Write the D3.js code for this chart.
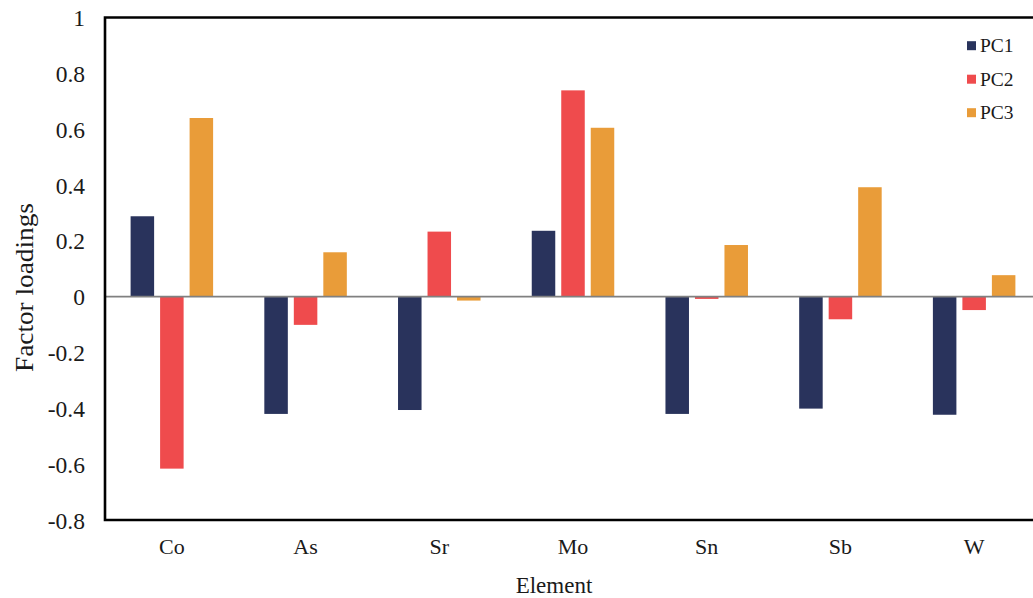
<!DOCTYPE html>
<html>
<head>
<meta charset="utf-8">
<script src="https://cdn.jsdelivr.net/npm/d3@7"></script>
<style>
  html, body { margin: 0; padding: 0; background: #fff; overflow: hidden; }
  svg { display: block; font-family: "Liberation Serif", "Times New Roman", serif; }
</style>
</head>
<body>
<svg id="chart" width="1033" height="598"></svg>
<script>
// Factor loadings of each element on the first three principal components
const elements = ["Co", "As", "Sr", "Mo", "Sn", "Sb", "W"];
const seriesNames = ["PC1", "PC2", "PC3"];
const pc1 = [0.288, -0.420, -0.406, 0.236, -0.420, -0.401, -0.423];
const pc2 = [-0.616, -0.101, 0.233, 0.739, -0.008, -0.081, -0.048];
const pc3 = [0.640, 0.159, -0.014, 0.605, 0.185, 0.392, 0.077];
const yTicks = [1, 0.8, 0.6, 0.4, 0.2, 0, -0.2, -0.4, -0.6, -0.8];
const colors = ["#29335c", "#ef4b4d", "#e99c39"];

const series = [pc1, pc2, pc3];
const rows = [];
elements.forEach((el, i) => {
  seriesNames.forEach((s, j) => rows.push({ el, s, v: series[j][i] }));
});

const svg = d3.select("#chart");
const plotLeft = 105, plotTop = 17.5, plotBottom = 520, plotRight = 1041;
const textColor = "#1a1a1a";

const x0 = d3.scaleBand().domain(elements).range([plotLeft, plotRight]).padding(0);
const x1 = d3.scaleBand().domain(seriesNames).range([0, x0.bandwidth()])
  .paddingInner(0.203).paddingOuter(0.868);
const y = d3.scaleLinear().domain([-0.8, 1]).range([plotBottom, plotTop]);

// bars
svg.append("g").selectAll("rect").data(rows).join("rect")
  .attr("x", d => x0(d.el) + x1(d.s))
  .attr("width", x1.bandwidth())
  .attr("y", d => y(Math.max(0, d.v)))
  .attr("height", d => Math.abs(y(d.v) - y(0)))
  .attr("fill", d => colors[seriesNames.indexOf(d.s)]);

// zero line
svg.append("line")
  .attr("x1", plotLeft).attr("x2", plotRight)
  .attr("y1", y(0)).attr("y2", y(0))
  .attr("stroke", "#808080").attr("stroke-width", 1.8);

// frame: left, top, bottom
svg.append("path")
  .attr("d", `M${plotRight},${plotTop}H${plotLeft}V${plotBottom}H${plotRight}`)
  .attr("fill", "none").attr("stroke", "#000").attr("stroke-width", 2.6);

// y axis labels (plain hyphen for negatives)
const yAxis = d3.axisLeft(y).tickValues(yTicks).tickSize(0).tickPadding(20)
  .tickFormat(d => String(+d.toFixed(1)));
const gy = svg.append("g").attr("transform", `translate(${plotLeft},0)`).call(yAxis);
gy.select(".domain").remove();
gy.selectAll("text").attr("font-size", 23.5).attr("fill", textColor).attr("dy", "0.34em")
  .attr("font-family", "Liberation Serif, Times New Roman, serif");

// x axis labels
const xAxis = d3.axisBottom(x0).tickSize(0).tickPadding(18);
const gx = svg.append("g").attr("transform", `translate(0,${plotBottom})`).call(xAxis);
gx.select(".domain").remove();
gx.selectAll("text").attr("font-size", 22).attr("fill", textColor)
  .attr("font-family", "Liberation Serif, Times New Roman, serif");

// axis titles
svg.append("text")
  .attr("x", 554).attr("y", 592.5)
  .attr("text-anchor", "middle").attr("font-size", 23).attr("fill", textColor)
  .text("Element");
svg.append("text")
  .attr("transform", `translate(32.5,287.5) rotate(-90)`)
  .attr("text-anchor", "middle").attr("font-size", 25).attr("fill", textColor)
  .attr("textLength", 169).attr("lengthAdjust", "spacingAndGlyphs")
  .text("Factor loadings");

// legend
const legend = svg.append("g").attr("transform", "translate(967,45.7)");
seriesNames.forEach((s, i) => {
  const g = legend.append("g").attr("transform", `translate(0,${i * 33.5})`);
  g.append("rect").attr("x", 0).attr("y", -4.5).attr("width", 9).attr("height", 9)
    .attr("fill", colors[i]);
  g.append("text").attr("x", 13).attr("y", 6.6)
    .attr("font-size", 19.5).attr("fill", textColor).text(s);
});
</script>
</body>
</html>
